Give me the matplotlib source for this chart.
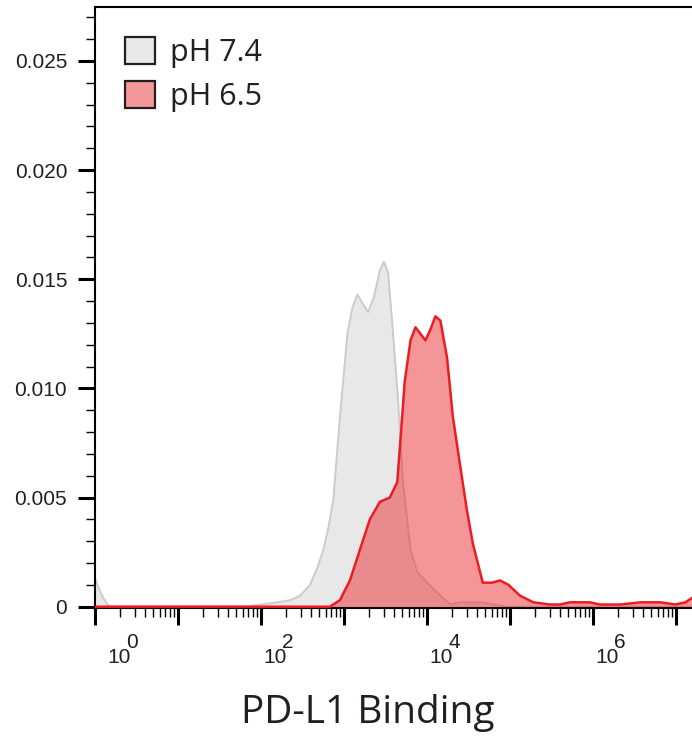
import matplotlib
matplotlib.use("Agg")
import matplotlib.pyplot as plt
from matplotlib import font_manager
import numpy as np
from matplotlib.patches import Patch
from matplotlib.ticker import FixedLocator, LogLocator, MultipleLocator, NullFormatter

# PD-L1 binding histograms, x given as log10(intensity)
GRAY_LOGX = [0.0, 0.05, 0.1, 0.15, 0.2, 1.8, 2.0, 2.2, 2.35, 2.47, 2.59, 2.68,
             2.75, 2.81, 2.87, 2.95, 3.04, 3.10, 3.16, 3.22, 3.29, 3.36, 3.43,
             3.48, 3.53, 3.59, 3.65, 3.71, 3.80, 3.88, 4.00, 4.16, 4.28, 4.40,
             4.48, 4.64, 4.80, 4.95, 7.2]
GRAY_VAL = [0.0013, 0.0008, 0.0004, 0.0001, 0.0, 0.0, 0.0001, 0.0002, 0.0003,
            0.0005, 0.0010, 0.0018, 0.0026, 0.0036, 0.0049, 0.0087, 0.0125,
            0.0137, 0.0143, 0.0139, 0.0135, 0.0142, 0.0154, 0.0158, 0.0153,
            0.0125, 0.0095, 0.0057, 0.0026, 0.0016, 0.0011, 0.0005, 0.0001,
            0.0002, 0.0002, 0.0002, 0.0001, 0.0, 0.0]

RED_LOGX = [0.0, 2.83, 2.95, 3.07, 3.19, 3.31, 3.43, 3.55, 3.64, 3.67, 3.73,
            3.80, 3.86, 3.92, 3.98, 4.04, 4.10, 4.16, 4.24, 4.31, 4.40, 4.48,
            4.55, 4.67, 4.78, 4.88, 4.98, 5.12, 5.28, 5.48, 5.60, 5.72, 5.96,
            6.08, 6.33, 6.57, 6.81, 6.99, 7.11, 7.19]
RED_VAL = [0.0, 0.0, 0.0003, 0.0012, 0.0026, 0.0040, 0.0048, 0.0050, 0.0057,
           0.0072, 0.0103, 0.0122, 0.0128, 0.0125, 0.0122, 0.0127, 0.0133,
           0.0131, 0.0114, 0.0087, 0.0064, 0.0044, 0.0029, 0.0011, 0.0011,
           0.0012, 0.0010, 0.0005, 0.0002, 0.0001, 0.0001, 0.0002, 0.0002,
           0.0001, 0.0001, 0.0002, 0.0002, 0.0001, 0.0002, 0.0004]

SERIES = ["pH 7.4", "pH 6.5"]
Y_TICKS = [0.0, 0.005, 0.010, 0.015, 0.020, 0.025]
Y_LABELS = ["0", "0.005", "0.010", "0.015", "0.020", "0.025"]
X_DECADES = [0, 1, 2, 3, 4, 5, 6, 7]
X_LABELED = [0, 2, 4, 6]
X_LABEL = "PD-L1 Binding"

INK = "#231f20"
GRAY_FILL, GRAY_EDGE = "#e8e8e8", "#cbcbcb"
RED_FILL, RED_EDGE = "#eb2d32", "#ec1c24"


def pick_font(*names):
    for name in names:
        try:
            font_manager.findfont(name, fallback_to_default=False)
            return name
        except ValueError:
            continue
    return "DejaVu Sans"


NARROW = pick_font("Liberation Sans Narrow", "Liberation Sans")

W, H = 692, 736
fig = plt.figure(figsize=(W / 100, H / 100), dpi=100)
ax = fig.add_axes([95 / W, 128 / H, (W - 95) / W, (608 - 7) / H])

gx = 10 ** np.array(GRAY_LOGX)
rx = 10 ** np.array(RED_LOGX)
ax.fill_between(gx, GRAY_VAL, 0, color=GRAY_FILL, lw=0, zorder=1)
ax.plot(gx, GRAY_VAL, color=GRAY_EDGE, lw=1.4, zorder=2)
ax.fill_between(rx, RED_VAL, 0, color=RED_FILL, alpha=0.5, lw=0, zorder=3)
ax.plot(rx, RED_VAL, color=RED_EDGE, lw=1.8, zorder=4, solid_joinstyle="round")

ax.set_xscale("log")
ax.set_xlim(1, 10 ** 7.19)
ax.set_ylim(-0.00006, 0.02747)

ax.xaxis.set_major_locator(FixedLocator([10.0 ** d for d in X_DECADES]))
ax.xaxis.set_major_formatter(NullFormatter())
ax.xaxis.set_minor_locator(LogLocator(base=10, subs=np.arange(2, 10), numticks=20))
ax.xaxis.set_minor_formatter(NullFormatter())
ax.set_yticks(Y_TICKS, Y_LABELS)
ax.yaxis.set_minor_locator(MultipleLocator(0.001))

ax.tick_params(axis="both", which="major", direction="out", length=12, width=2.2,
               color="black", labelcolor=INK)
ax.tick_params(axis="both", which="minor", direction="out", length=6.5, width=1.0,
               color="black")
ax.tick_params(axis="y", which="major", pad=8, labelsize=15)
for lab in ax.get_yticklabels():
    lab.set_fontfamily("Liberation Sans")

# decade labels: "10" with a raised, full-size exponent, just right of the tick
for d in X_LABELED:
    dx = 12 if d == 0 else 2
    ax.annotate("10", xy=(10.0 ** d, 0), xycoords=("data", "axes fraction"),
                xytext=(dx * 0.72, -28.5), textcoords="offset points",
                ha="left", va="top", fontsize=15, family=NARROW, color=INK)
    ax.annotate(str(d), xy=(10.0 ** d, 0), xycoords=("data", "axes fraction"),
                xytext=((dx + 19) * 0.72, -17.8), textcoords="offset points",
                ha="left", va="top", fontsize=15, family=NARROW, color=INK)

for side in ["left", "bottom", "top"]:
    ax.spines[side].set_linewidth(1.5)
    ax.spines[side].set_color("black")
ax.spines["right"].set_visible(False)

handles = [
    Patch(facecolor=GRAY_FILL, edgecolor=INK, linewidth=1.6, label=SERIES[0]),
    Patch(facecolor="#f4979a", edgecolor=INK, linewidth=1.6, label=SERIES[1]),
]
ax.legend(handles=handles, loc="upper left", bbox_to_anchor=(0.05, 0.95),
          frameon=False, borderpad=0, borderaxespad=0, handlelength=0.98,
          handleheight=0.98, handletextpad=0.5, labelspacing=0.42,
          prop={"family": "Open Sans", "size": 22}, labelcolor=INK)

fig.text(368 / W, 1 - 713 / H, X_LABEL, ha="center", va="center",
         fontsize=28, family="Open Sans", color=INK)

fig.savefig("out.png", dpi=100, facecolor="white")
